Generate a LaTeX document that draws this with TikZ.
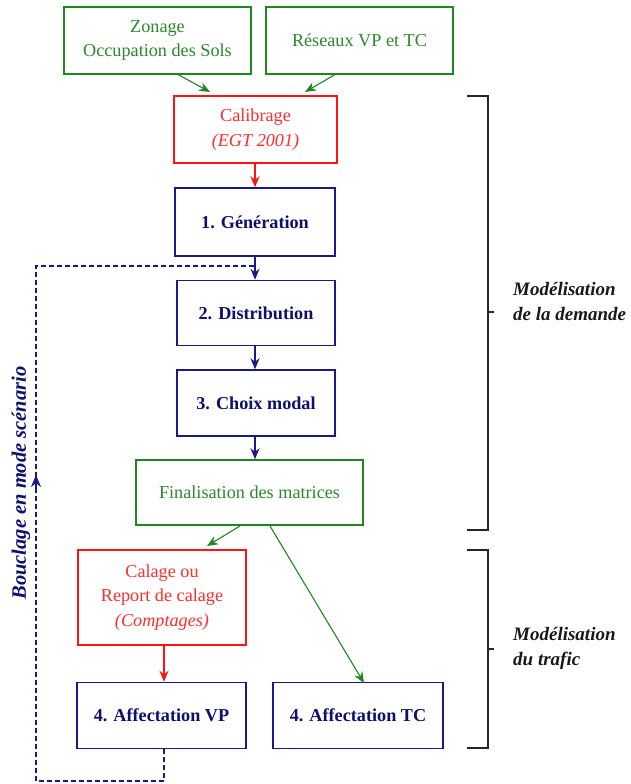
\documentclass[tikz,border=0pt]{standalone}
\usepackage{fontspec}
\setmainfont{Liberation Serif}
\usetikzlibrary{arrows.meta}
\definecolor{grn}{RGB}{30,135,30}
\definecolor{grntxt}{RGB}{45,135,45}
\definecolor{rd}{RGB}{255,20,20}
\definecolor{rdtxt}{RGB}{255,45,45}
\definecolor{nv}{RGB}{25,25,135}
\definecolor{nvtxt}{RGB}{15,15,110}
\tikzset{
  box/.style={draw, line width=1.5pt, inner sep=0pt, align=center,
    font=\fontsize{18.2}{24.5}\selectfont},
  gbox/.style={box, draw=grn, text=grntxt},
  rbox/.style={box, draw=rd, text=rdtxt},
  bbox/.style={box, draw=nv, text=nvtxt, font=\fontsize{18.2}{24.5}\selectfont\bfseries},
  arr/.style={line width=1.1pt, -{Stealth[length=11pt,width=9pt]}},
  loopline/.style={nv, line width=1.2pt, dash pattern=on 5pt off 3pt},
  brk/.style={line width=1.3pt, black!85},
  lbl/.style={anchor=north west, align=left, text=black!90,
    font=\fontsize{19}{25}\selectfont\bfseries\itshape, inner sep=0pt}
}
\begin{document}
\begin{tikzpicture}[x=1pt,y=-1pt]
\useasboundingbox (0,0) rectangle (631,784);
\fill[white] (0,0) rectangle (631,784);

\node[gbox, minimum width=187pt, minimum height=67pt] (zon) at (157.5,40.5) {Zonage\\Occupation des Sols};
\node[gbox, minimum width=187pt, minimum height=67pt] (res) at (359.5,40.5) {Réseaux VP et TC};
\node[rbox, minimum width=163pt, minimum height=67pt] (cal) at (255.5,129.5) {Calibrage\\{\itshape (EGT 2001)}};
\node[bbox, minimum width=160pt, minimum height=68pt] (gen) at (255,222) {1. Génération};
\node[bbox, minimum width=158pt, minimum height=65pt] (dis) at (256,313) {2. Distribution};
\node[bbox, minimum width=158pt, minimum height=66pt] (cho) at (256,403) {3. Choix modal};
\node[gbox, minimum width=227pt, minimum height=65pt] (fin) at (249.5,492.5) {Finalisation des matrices};
\node[rbox, minimum width=168pt, minimum height=95pt] (cag) at (162,597.5) {Calage ou\\Report de calage\\{\itshape (Comptages)}};
\node[bbox, minimum width=169pt, minimum height=66pt] (avp) at (161.5,715.5) {4. Affectation VP};
\node[bbox, minimum width=170pt, minimum height=66pt] (atc) at (358,715.5) {4. Affectation TC};

% arrows
\draw[arr, grn] (177,74) -- (210,92);
\draw[arr, grn] (336,74) -- (305,92);
\draw[arr, rd] (cal.south -| 255,0) -- (gen.north -| 255,0);
\draw[arr, nv] (gen.south -| 255,0) -- (dis.north -| 255,0);
\draw[arr, nv] (dis.south -| 255,0) -- (cho.north -| 255,0);
\draw[arr, nv] (cho.south -| 255,0) -- (fin.north -| 255,0);
\draw[arr, grn] (240,526) -- (207,546);
\draw[arr, grn] (270,526) -- (364,683);
\draw[arr, rd] (cag.south -| 164,0) -- (avp.north -| 164,0);

% loop
\coordinate (l1) at (164,781);
\coordinate (l2) at (36,781);
\coordinate (l3) at (36,266);
\coordinate (l4) at (255,266);
\draw[loopline] (avp.south -| 164,0) -- (l1) -- (l2) -- (l3) -- (l4);
\coordinate (a1) at (36,492);
\coordinate (a2) at (36,475);
\draw[nv, line width=1.2pt, -{Stealth[length=12pt,width=10pt]}] (a1) -- (a2);
\node[rotate=90, text=nvtxt, font=\fontsize{20.5}{24}\selectfont\bfseries\itshape] (bcl) at (21,483) {Bouclage en mode scénario};

% brackets
\draw[brk] (467,96) -- (488,96) -- (488,530) -- (467,530);
\draw[brk] (488,312) -- (494,312);
\draw[brk] (467,550) -- (488,550) -- (488,748) -- (467,748);
\draw[brk] (488,649) -- (494,649);
\node[lbl] (l1t) at (513,282) {Modélisation\\de la demande};
\node[lbl] (l2t) at (513,627) {Modélisation\\du trafic};
\end{tikzpicture}
\end{document}
